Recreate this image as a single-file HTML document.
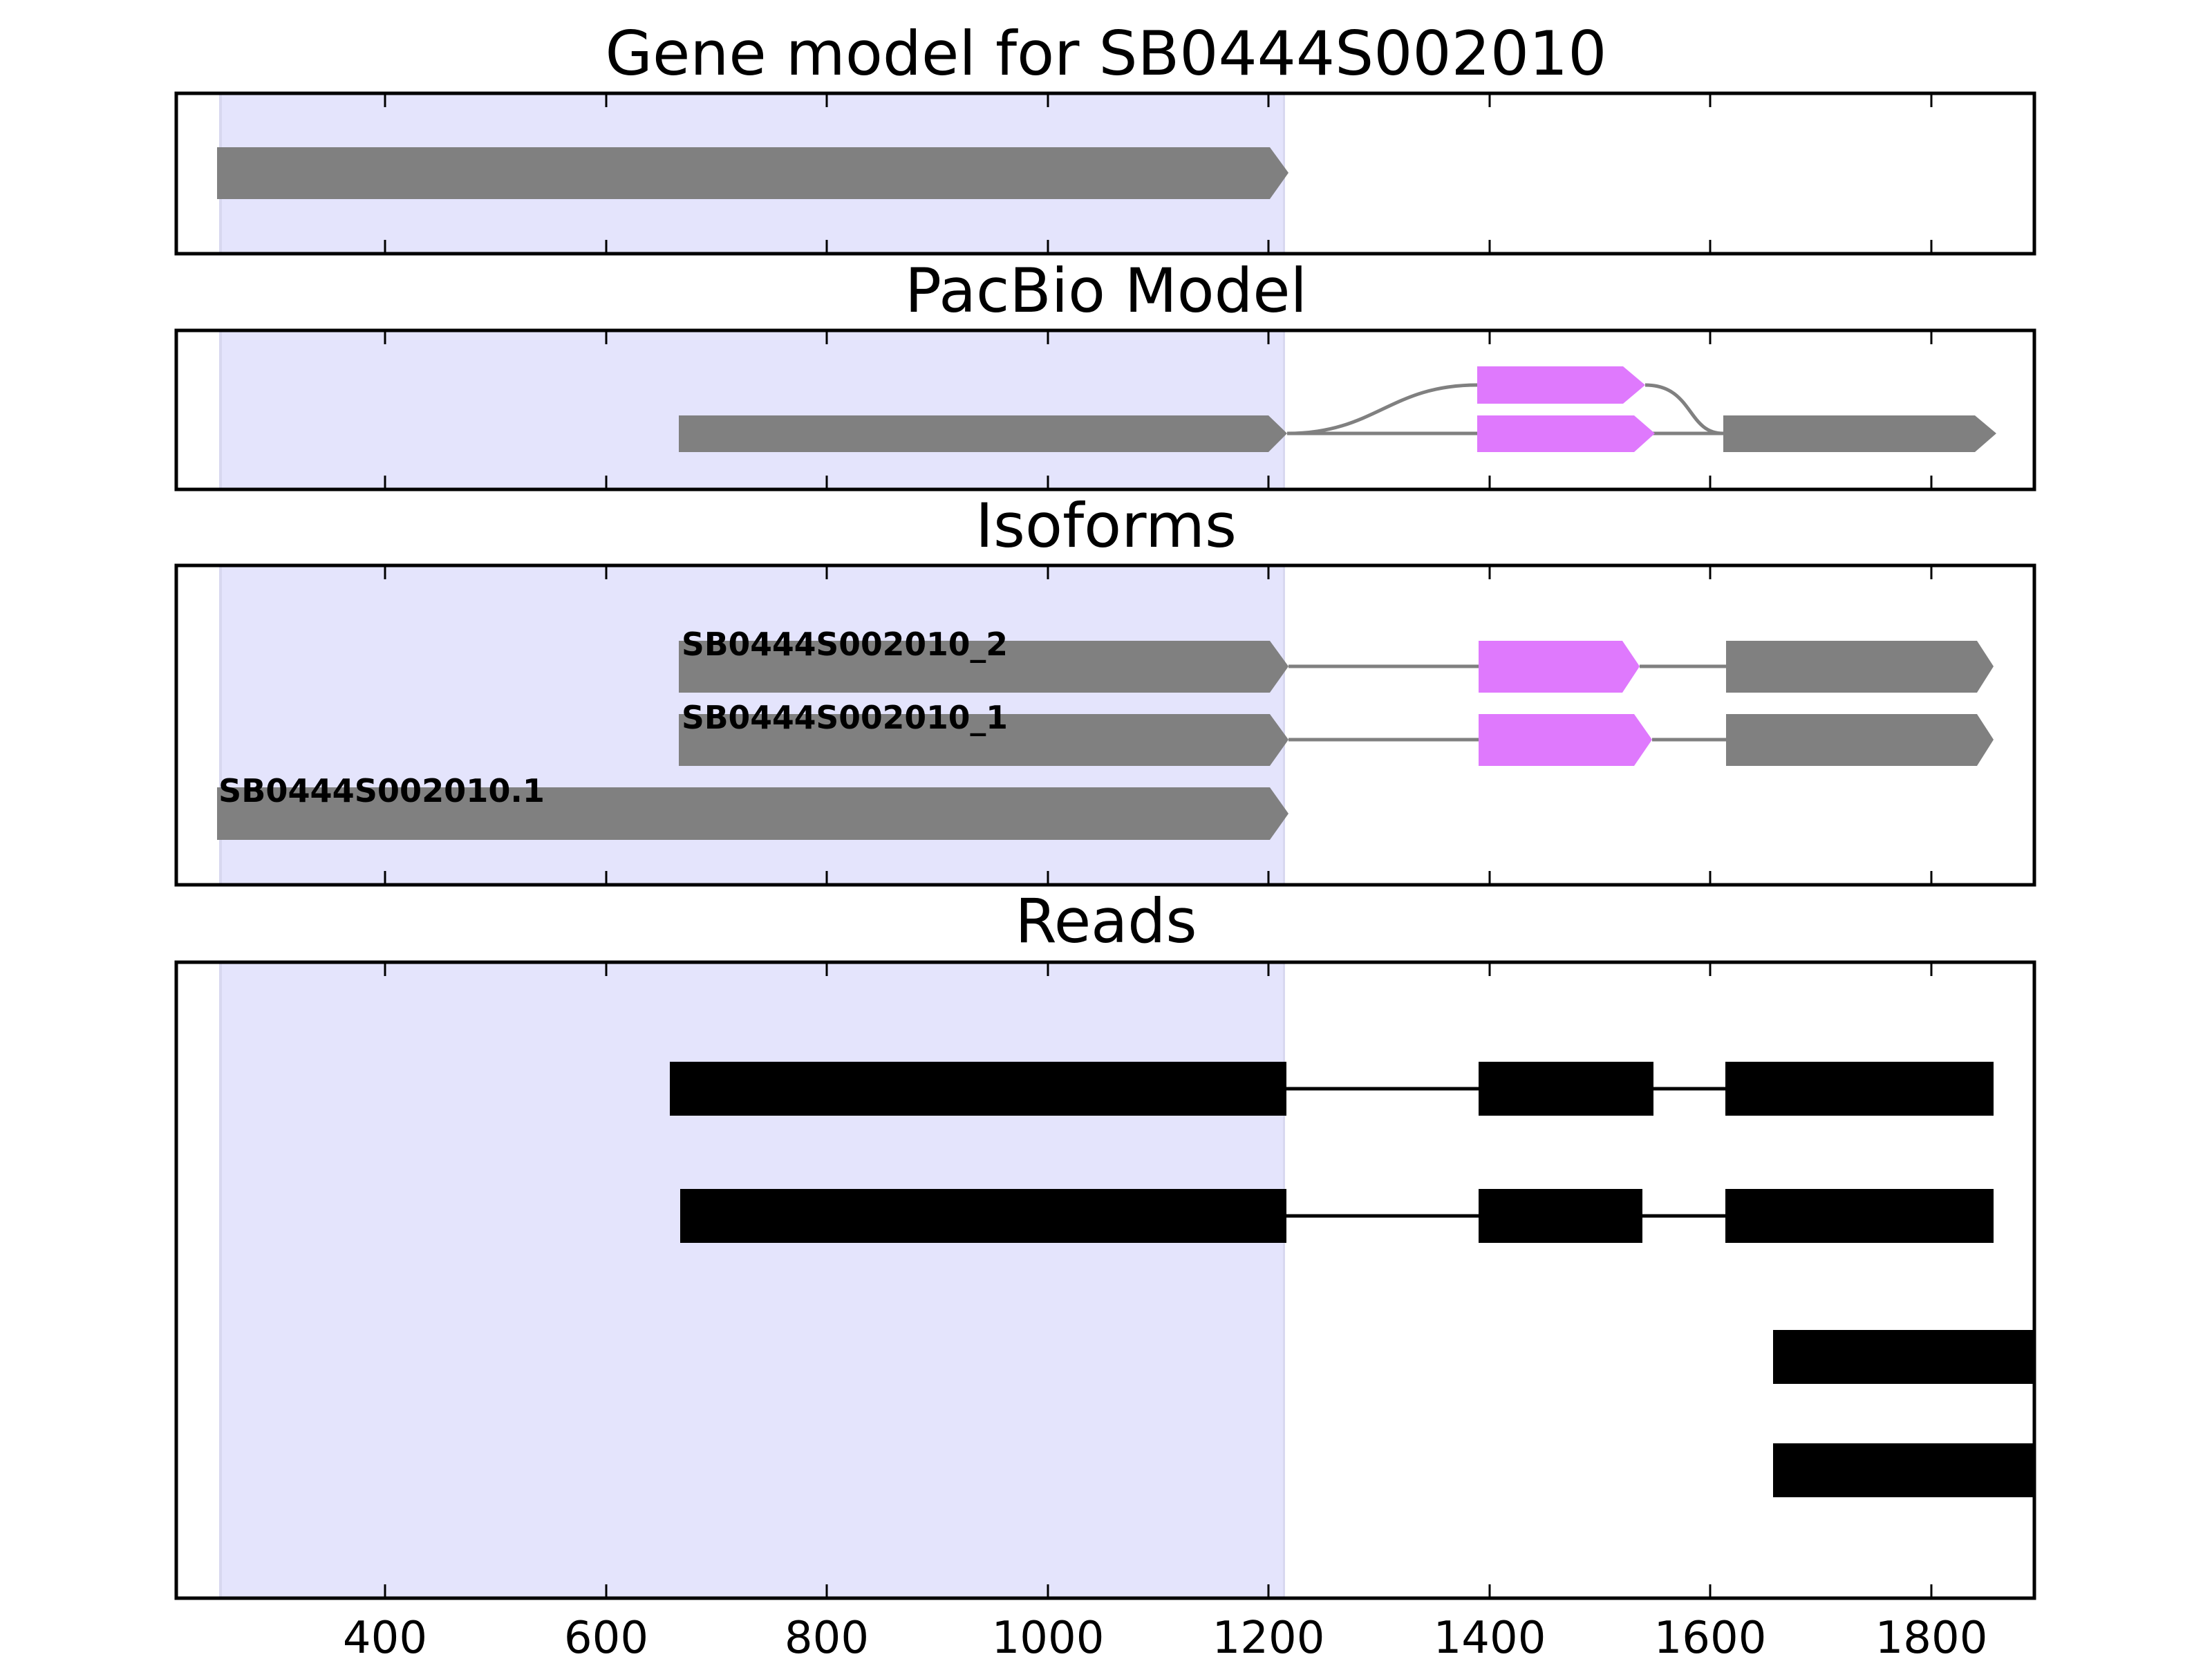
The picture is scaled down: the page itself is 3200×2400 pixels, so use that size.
<!DOCTYPE html>
<html><head><meta charset="utf-8"><style>html,body{margin:0;padding:0;background:#fff}svg{display:block}</style></head>
<body>
<svg width="3200" height="2400" viewBox="0 0 3200 2400" xmlns="http://www.w3.org/2000/svg" font-family="DejaVu Sans, Liberation Sans, sans-serif">
<rect width="3200" height="2400" fill="#fff"/>
<g fill="#e4e4fc">
<rect x="319" y="135" width="1539" height="232"/>
<rect x="319" y="478" width="1539" height="230"/>
<rect x="319" y="818" width="1539" height="462"/>
<rect x="319" y="1392" width="1539" height="920"/>
</g>
<g fill="#d8d8f0">
<rect x="317" y="135" width="4" height="232"/><rect x="1856" y="135" width="3" height="232"/>
<rect x="317" y="478" width="4" height="230"/><rect x="1856" y="478" width="3" height="230"/>
<rect x="317" y="818" width="4" height="462"/><rect x="1856" y="818" width="3" height="462"/>
<rect x="317" y="1392" width="4" height="920"/><rect x="1856" y="1392" width="3" height="920"/>
</g>
<g font-size="88" fill="#000" text-anchor="middle">
<text x="1600" y="108" textLength="1449" lengthAdjust="spacingAndGlyphs">Gene model for SB0444S002010</text>
<text x="1600" y="451" textLength="582" lengthAdjust="spacingAndGlyphs">PacBio Model</text>
<text x="1600" y="791" textLength="378" lengthAdjust="spacingAndGlyphs">Isoforms</text>
<text x="1600" y="1363" textLength="263" lengthAdjust="spacingAndGlyphs">Reads</text>
</g>
<polygon points="314,213 1837,213 1864,250 1837,288 314,288" fill="#808080"/>
<path d="M1862,627 L2137,627 M2364,627 L2493,627" stroke="#808080" stroke-width="5" fill="none"/>
<path d="M1862,627 C1990,627 2010,557 2137,557 M2380,557 C2450,557 2440,627 2493,627" stroke="#808080" stroke-width="5" fill="none"/>
<polygon points="982,601 1835,601 1862,627 1835,654 982,654" fill="#808080"/>
<polygon points="2137,530 2348,530 2380,557 2348,584 2137,584" fill="#df79fd"/>
<polygon points="2137,601 2364,601 2394,627 2364,654 2137,654" fill="#df79fd"/>
<polygon points="2493,601 2857,601 2888,627 2857,654 2493,654" fill="#808080"/>
<path d="M1864,964 L2139,964 M2372,964 L2497,964 M1864,1070 L2139,1070 M2390,1070 L2497,1070" stroke="#808080" stroke-width="5" fill="none"/>
<polygon points="982,927 1837,927 1864,964 1837,1002 982,1002" fill="#808080"/>
<polygon points="2139,927 2347,927 2372,964 2347,1002 2139,1002" fill="#df79fd"/>
<polygon points="2497,927 2860,927 2884,964 2860,1002 2497,1002" fill="#808080"/>
<polygon points="982,1033 1837,1033 1864,1070 1837,1108 982,1108" fill="#808080"/>
<polygon points="2139,1033 2364,1033 2390,1070 2364,1108 2139,1108" fill="#df79fd"/>
<polygon points="2497,1033 2860,1033 2884,1070 2860,1108 2497,1108" fill="#808080"/>
<polygon points="314,1139 1837,1139 1864,1177 1837,1215 314,1215" fill="#808080"/>
<g font-size="46" font-weight="bold" fill="#000">
<text x="986" y="948" textLength="472" lengthAdjust="spacingAndGlyphs">SB0444S002010_2</text>
<text x="986" y="1054" textLength="472" lengthAdjust="spacingAndGlyphs">SB0444S002010_1</text>
<text x="316" y="1160" textLength="472" lengthAdjust="spacingAndGlyphs">SB0444S002010.1</text>
</g>
<path d="M1861,1575 L2139,1575 M2392,1575 L2496,1575 M1861,1759 L2139,1759 M2376,1759 L2496,1759" stroke="#000" stroke-width="5" fill="none"/>
<g fill="#000">
<rect x="969" y="1536" width="892" height="78"/>
<rect x="2139" y="1536" width="253" height="78"/>
<rect x="2496" y="1536" width="388" height="78"/>
<rect x="984" y="1720" width="877" height="78"/>
<rect x="2139" y="1720" width="237" height="78"/>
<rect x="2496" y="1720" width="388" height="78"/>
<rect x="2565" y="1924" width="378" height="78"/>
<rect x="2565" y="2088" width="378" height="78"/>
</g>
<g fill="none" stroke="#000" stroke-width="5">
<rect x="255" y="135" width="2688" height="232"/>
<rect x="255" y="478" width="2688" height="230"/>
<rect x="255" y="818" width="2688" height="462"/>
<rect x="255" y="1392" width="2688" height="920"/>
</g>
<g stroke="#000" stroke-width="3">
<path d="M557,135v20M557,367v-20M557,478v20M557,708v-20M557,818v20M557,1280v-20M557,1392v20M557,2312v-20"/>
<path d="M877,135v20M877,367v-20M877,478v20M877,708v-20M877,818v20M877,1280v-20M877,1392v20M877,2312v-20"/>
<path d="M1196,135v20M1196,367v-20M1196,478v20M1196,708v-20M1196,818v20M1196,1280v-20M1196,1392v20M1196,2312v-20"/>
<path d="M1516,135v20M1516,367v-20M1516,478v20M1516,708v-20M1516,818v20M1516,1280v-20M1516,1392v20M1516,2312v-20"/>
<path d="M1835,135v20M1835,367v-20M1835,478v20M1835,708v-20M1835,818v20M1835,1280v-20M1835,1392v20M1835,2312v-20"/>
<path d="M2155,135v20M2155,367v-20M2155,478v20M2155,708v-20M2155,818v20M2155,1280v-20M2155,1392v20M2155,2312v-20"/>
<path d="M2474,135v20M2474,367v-20M2474,478v20M2474,708v-20M2474,818v20M2474,1280v-20M2474,1392v20M2474,2312v-20"/>
<path d="M2794,135v20M2794,367v-20M2794,478v20M2794,708v-20M2794,818v20M2794,1280v-20M2794,1392v20M2794,2312v-20"/>
</g>
<g font-size="64" fill="#000" text-anchor="middle">
<text x="557" y="2391">400</text><text x="877" y="2391">600</text><text x="1196" y="2391">800</text><text x="1516" y="2391">1000</text>
<text x="1835" y="2391">1200</text><text x="2155" y="2391">1400</text><text x="2474" y="2391">1600</text><text x="2794" y="2391">1800</text>
</g>
</svg>
</body></html>
